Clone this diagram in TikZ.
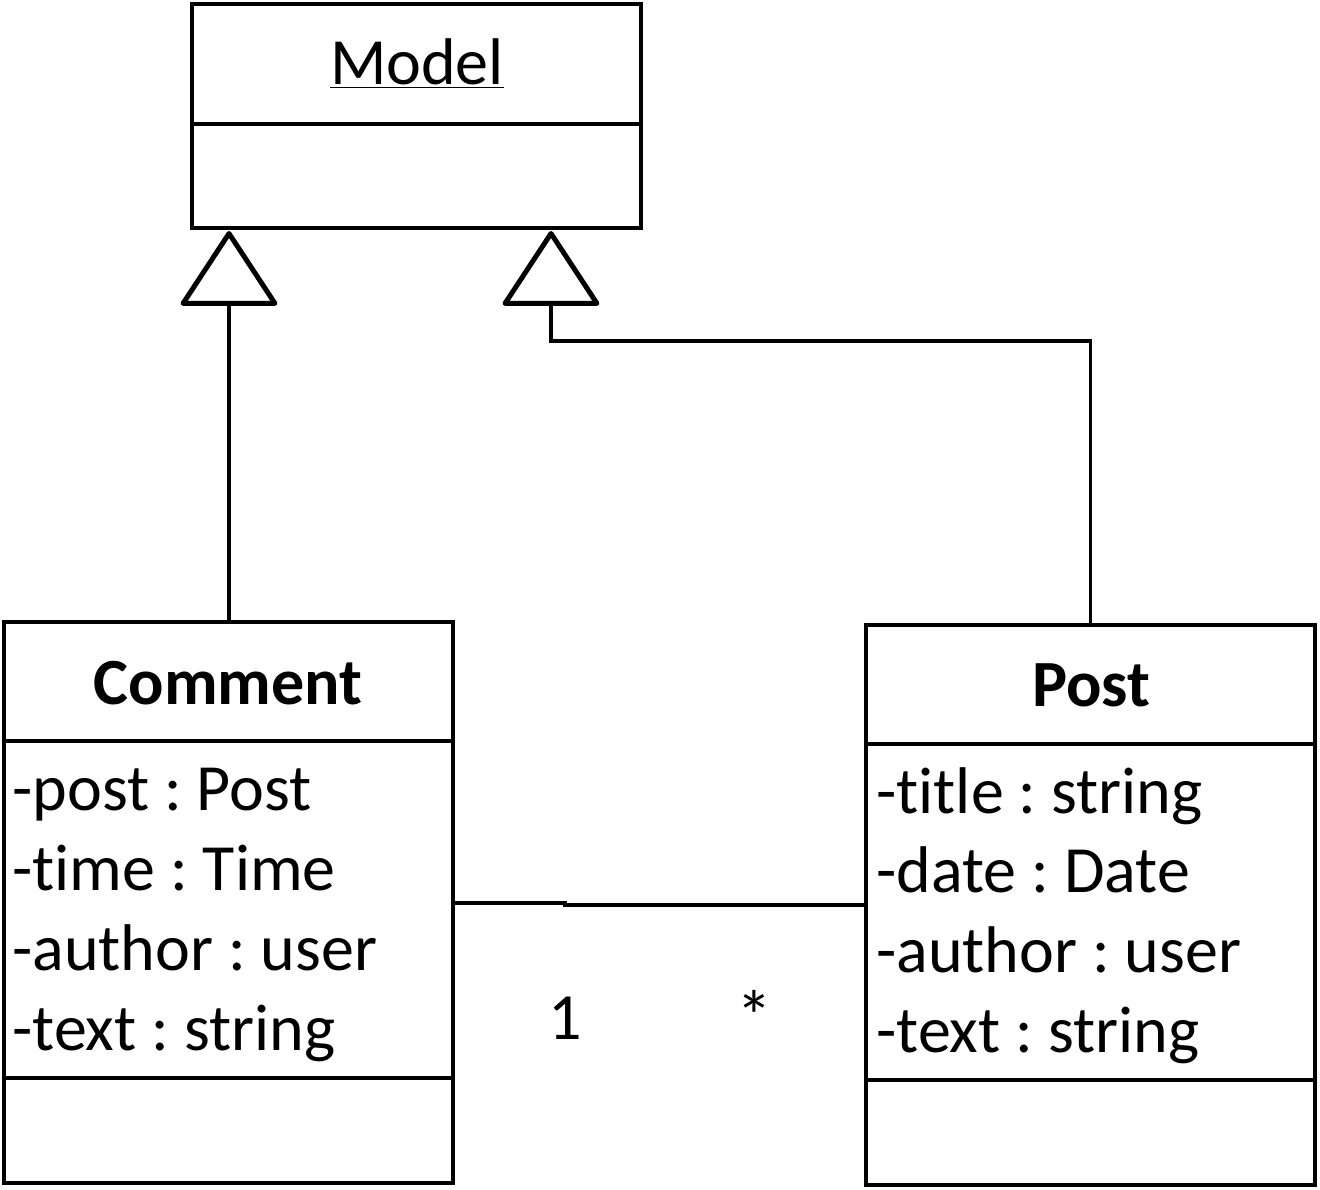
\documentclass[tikz,border=0pt]{standalone}
\usepackage{fontspec}
\setmainfont{Carlito}[Ligatures=NoCommon]
\usetikzlibrary{arrows.meta}
\frenchspacing
\begin{document}
\begin{tikzpicture}[x=0.5pt,y=-0.5pt,
  box/.style={draw,line width=1.9pt,rectangle,inner sep=0pt},
  conn/.style={line width=1.6pt},
  gen/.style={conn,-{Triangle[open,length=38.5pt 0 0,width=50pt 0 0,line width=2.5pt,line join=round]}},
  txt/.style={font=\fontsize{33}{36}\selectfont,inner sep=0pt},
  attr/.style={txt,anchor=base west},
  ttl/.style={font=\fontsize{33}{36}\selectfont\bfseries,inner sep=0pt,anchor=base}]
\useasboundingbox (0,0) rectangle (1320,1189);
% Model
\node[box,minimum width=224.5pt,minimum height=112pt] (model) at (416.5,116) {};
\draw[line width=1.9pt] (192,124) -- (641,124);
\node[txt,anchor=base] (modelt) at (417,84) {\underline{Model}};
% Comment
\node[box,minimum width=224.5pt,minimum height=280.5pt] (comment) at (228.5,902.5) {};
\draw[line width=1.9pt] (4,741) -- (453,741) (4,1078) -- (453,1078);
\node[ttl] (commentt) at (228,704) {Comment};
\node[attr] (c1) at (12,810) {-post : Post};
\node[attr] (c2) at (12,890) {-time : Time};
\node[attr] (c3) at (12,970) {-author : user};
\node[attr] (c4) at (12,1050) {-text : string};
% Post
\node[box,minimum width=224.5pt,minimum height=280pt] (post) at (1090.5,905) {};
\draw[line width=1.9pt] (866,744) -- (1315,744) (866,1080) -- (1315,1080);
\node[ttl] (postt) at (1091,706) {Post};
\node[attr] (p1) at (876,813) {-title : string};
\node[attr] (p2) at (876,892) {-date : Date};
\node[attr] (p3) at (876,972) {-author : user};
\node[attr] (p4) at (876,1052) {-text : string};
% generalisations
\coordinate (tl) at (229,231);
\coordinate (tr) at (551,231);
\coordinate (bend) at (551,341);
\draw[gen] (comment.north -| tl) -- (tl);
\draw[gen] (post.north) |- (bend) -- (tr);
% association
\coordinate (k1) at (565,903);
\coordinate (k2) at (565,905);
\draw[conn] (comment.east |- k1) -- (k1) -- (k2) -- (post.west |- k2);
\node[txt] (m1) at (565,1018) {1};
\node[txt,font=\fontsize{36}{40}\selectfont] (m2) at (754,1016) {*};
\end{tikzpicture}
\end{document}
